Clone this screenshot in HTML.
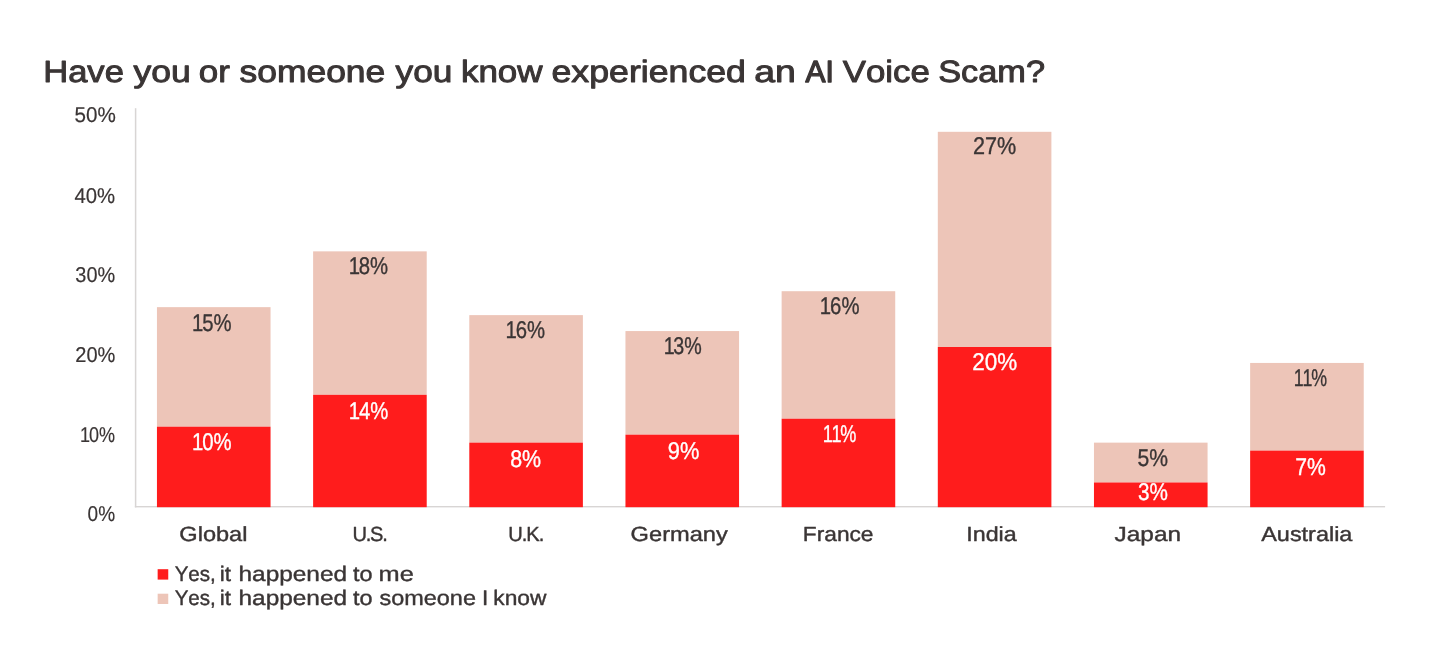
<!DOCTYPE html>
<html lang="en">
<head>
<meta charset="utf-8">
<title>Have you or someone you know experienced an AI Voice Scam?</title>
<style>
html,body{margin:0;padding:0;background:#fff;}
body{width:1440px;height:658px;overflow:hidden;font-family:"Liberation Sans",sans-serif;}
svg{display:block;}
svg text{font-family:"Liberation Sans",sans-serif;white-space:pre;font-kerning:none;text-rendering:geometricPrecision;vector-effect:non-scaling-stroke;stroke-linejoin:round;}
</style>
</head>
<body>
<svg width="1440" height="658" viewBox="0 0 1440 658">
<rect width="1440" height="658" fill="#ffffff"/>
<g id="axes">
<rect x="134.85" y="108.2" width="1.5" height="399.20" fill="#d8d5d4"/>
<rect x="134.85" y="506.0" width="1250.25" height="1.4" fill="#d8d5d4"/>
</g>
<g id="bars">
<rect x="156.95" y="307.15" width="113.60" height="119.55" fill="#edc5b8"/>
<rect x="156.95" y="426.70" width="113.60" height="80.50" fill="#ff1c1c"/>
<rect x="313.12" y="251.36" width="113.60" height="143.46" fill="#edc5b8"/>
<rect x="313.12" y="394.82" width="113.60" height="112.38" fill="#ff1c1c"/>
<rect x="469.29" y="315.12" width="113.60" height="127.52" fill="#edc5b8"/>
<rect x="469.29" y="442.64" width="113.60" height="64.56" fill="#ff1c1c"/>
<rect x="625.46" y="331.06" width="113.60" height="103.61" fill="#edc5b8"/>
<rect x="625.46" y="434.67" width="113.60" height="72.53" fill="#ff1c1c"/>
<rect x="781.63" y="291.21" width="113.60" height="127.52" fill="#edc5b8"/>
<rect x="781.63" y="418.73" width="113.60" height="88.47" fill="#ff1c1c"/>
<rect x="937.80" y="131.81" width="113.60" height="215.19" fill="#edc5b8"/>
<rect x="937.80" y="347.00" width="113.60" height="160.20" fill="#ff1c1c"/>
<rect x="1093.97" y="442.64" width="113.60" height="39.85" fill="#edc5b8"/>
<rect x="1093.97" y="482.49" width="113.60" height="24.71" fill="#ff1c1c"/>
<rect x="1250.14" y="362.94" width="113.60" height="87.67" fill="#edc5b8"/>
<rect x="1250.14" y="450.61" width="113.60" height="56.59" fill="#ff1c1c"/>
</g>
<g id="legend-keys">
<rect x="157.65" y="569.2" width="10.6" height="10.4" fill="#ff1c1c"/>
<rect x="157.65" y="593.7" width="10.6" height="10.3" fill="#edc5b8"/>
</g>
<g id="labels">
<text y="82.08" font-size="30.67" fill="#3a3535" stroke="#3a3535" stroke-width="0.95"><tspan x="43.19" textLength="80.67" lengthAdjust="spacingAndGlyphs">Have</tspan> <tspan x="133.49" textLength="57.30" lengthAdjust="spacingAndGlyphs">you</tspan> <tspan x="198.81" textLength="31.10" lengthAdjust="spacingAndGlyphs">or</tspan> <tspan x="239.49" textLength="145.81" lengthAdjust="spacingAndGlyphs">someone</tspan> <tspan x="395.59" textLength="56.88" lengthAdjust="spacingAndGlyphs">you</tspan> <tspan x="460.92" textLength="81.62" lengthAdjust="spacingAndGlyphs">know</tspan> <tspan x="551.51" textLength="194.42" lengthAdjust="spacingAndGlyphs">experienced</tspan> <tspan x="754.18" textLength="41.67" lengthAdjust="spacingAndGlyphs">an</tspan> <tspan x="805.52" textLength="28.27" lengthAdjust="spacingAndGlyphs" stroke-width="1.35">AI</tspan> <tspan x="842.72" textLength="87.15" lengthAdjust="spacingAndGlyphs">Voice</tspan> <tspan x="938.22" textLength="106.78" lengthAdjust="spacingAndGlyphs">Scam?</tspan></text>
<text transform="translate(74.57 122.40) scale(0.9616 1)" font-size="21.44" fill="#3a3535" stroke="#3a3535" stroke-width="0.2">50%</text>
<text transform="translate(74.43 203.05) scale(0.9483 1)" font-size="21.44" fill="#3a3535" stroke="#3a3535" stroke-width="0.2">40%</text>
<text transform="translate(75.34 281.50) scale(0.9267 1)" font-size="21.44" fill="#3a3535" stroke="#3a3535" stroke-width="0.2">30%</text>
<text transform="translate(75.29 361.50) scale(0.9338 1)" font-size="21.44" fill="#3a3535" stroke="#3a3535" stroke-width="0.2">20%</text>
<text transform="translate(79.98 441.55) scale(0.8400 1)" font-size="21.44" fill="#3a3535" stroke="#3a3535" stroke-width="0.2" dx="0 -1.17 0">10%</text>
<text transform="translate(87.61 520.55) scale(0.8865 1)" font-size="21.44" fill="#3a3535" stroke="#3a3535" stroke-width="0.2">0%</text>
<text transform="translate(179.31 540.85) scale(1.1506 1)" font-size="20.49" fill="#3a3535" stroke="#3a3535" stroke-width="0.4">Global</text>
<text transform="translate(352.45 540.85) scale(0.9800 1)" font-size="20.49" fill="#3a3535" stroke="#3a3535" stroke-width="0.4" dx="0 -1.25 -1.25 -1.25">U.S.</text>
<text transform="translate(508.15 540.85) scale(0.9800 1)" font-size="20.49" fill="#3a3535" stroke="#3a3535" stroke-width="0.4" dx="0 -0.98 -0.98 -0.98">U.K.</text>
<text transform="translate(630.61 540.85) scale(1.1537 1)" font-size="20.49" fill="#3a3535" stroke="#3a3535" stroke-width="0.4">Germany</text>
<text transform="translate(802.84 540.85) scale(1.1080 1)" font-size="20.49" fill="#3a3535" stroke="#3a3535" stroke-width="0.4">France</text>
<text transform="translate(966.25 540.85) scale(1.1351 1)" font-size="20.49" fill="#3a3535" stroke="#3a3535" stroke-width="0.4">India</text>
<text transform="translate(1114.62 540.85) scale(1.1903 1)" font-size="20.49" fill="#3a3535" stroke="#3a3535" stroke-width="0.4">Japan</text>
<text transform="translate(1261.25 540.85) scale(1.1431 1)" font-size="20.49" fill="#3a3535" stroke="#3a3535" stroke-width="0.4">Australia</text>
<text transform="translate(191.89 330.52) scale(0.8400 1)" font-size="24.20" fill="#3a3535" stroke="#3a3535" stroke-width="0.35" dx="0 -1.16 0">15%</text>
<text transform="translate(191.93 449.67) scale(0.8400 1)" font-size="24.20" fill="#ffffff" stroke="#ffffff" stroke-width="0.35" dx="0 -1.15 0">10%</text>
<text transform="translate(348.73 273.92) scale(0.8400 1)" font-size="24.20" fill="#3a3535" stroke="#3a3535" stroke-width="0.35" dx="0 -1.45 0">18%</text>
<text transform="translate(348.73 418.82) scale(0.8400 1)" font-size="24.20" fill="#ffffff" stroke="#ffffff" stroke-width="0.35" dx="0 -1.21 0">14%</text>
<text transform="translate(505.58 338.02) scale(0.8400 1)" font-size="24.20" fill="#3a3535" stroke="#3a3535" stroke-width="0.35" dx="0 -1.33 0">16%</text>
<text transform="translate(510.14 466.92) scale(0.8862 1)" font-size="24.20" fill="#ffffff" stroke="#ffffff" stroke-width="0.35">8%</text>
<text transform="translate(663.68 353.92) scale(0.8131 1)" font-size="24.20" fill="#3a3535" stroke="#3a3535" stroke-width="0.35" dx="0 -1.58 0">13%</text>
<text transform="translate(667.75 458.67) scale(0.9036 1)" font-size="24.20" fill="#ffffff" stroke="#ffffff" stroke-width="0.35">9%</text>
<text transform="translate(819.73 314.02) scale(0.8400 1)" font-size="24.20" fill="#3a3535" stroke="#3a3535" stroke-width="0.35" dx="0 -1.09 0">16%</text>
<text transform="translate(822.69 441.82) scale(0.7495 1)" font-size="24.20" fill="#ffffff" stroke="#ffffff" stroke-width="0.35" dx="0 -1.79 -1.58">11%</text>
<text transform="translate(973.04 154.22) scale(0.8941 1)" font-size="24.20" fill="#3a3535" stroke="#3a3535" stroke-width="0.35">27%</text>
<text transform="translate(972.24 370.22) scale(0.9286 1)" font-size="24.20" fill="#ffffff" stroke="#ffffff" stroke-width="0.35">20%</text>
<text transform="translate(1137.43 465.52) scale(0.8734 1)" font-size="24.20" fill="#3a3535" stroke="#3a3535" stroke-width="0.35">5%</text>
<text transform="translate(1137.99 500.32) scale(0.8556 1)" font-size="24.20" fill="#ffffff" stroke="#ffffff" stroke-width="0.35">3%</text>
<text transform="translate(1293.82 385.82) scale(0.7365 1)" font-size="24.20" fill="#3a3535" stroke="#3a3535" stroke-width="0.35" dx="0 -1.79 -1.58">11%</text>
<text transform="translate(1295.19 474.72) scale(0.8761 1)" font-size="24.20" fill="#ffffff" stroke="#ffffff" stroke-width="0.35">7%</text>
<text y="580.75" font-size="21.08" fill="#3a3535" stroke="#3a3535" stroke-width="0.4"><tspan x="174.65" textLength="41.20" lengthAdjust="spacingAndGlyphs">Yes,</tspan> <tspan x="219.79" textLength="11.27" lengthAdjust="spacingAndGlyphs">it</tspan> <tspan x="238.51" textLength="108.56" lengthAdjust="spacingAndGlyphs">happened</tspan> <tspan x="352.95" textLength="19.54" lengthAdjust="spacingAndGlyphs">to</tspan> <tspan x="378.52" textLength="35.21" lengthAdjust="spacingAndGlyphs">me</tspan></text>
<text y="605.40" font-size="21.08" fill="#3a3535" stroke="#3a3535" stroke-width="0.4"><tspan x="174.65" textLength="41.20" lengthAdjust="spacingAndGlyphs">Yes,</tspan> <tspan x="219.79" textLength="11.27" lengthAdjust="spacingAndGlyphs">it</tspan> <tspan x="238.51" textLength="108.56" lengthAdjust="spacingAndGlyphs">happened</tspan> <tspan x="352.95" textLength="19.54" lengthAdjust="spacingAndGlyphs">to</tspan> <tspan x="379.55" textLength="96.39" lengthAdjust="spacingAndGlyphs">someone</tspan> <tspan x="482.12" textLength="6.26" lengthAdjust="spacingAndGlyphs">I</tspan> <tspan x="493.27" textLength="53.18" lengthAdjust="spacingAndGlyphs">know</tspan></text>
</g>
</svg>
</body>
</html>
